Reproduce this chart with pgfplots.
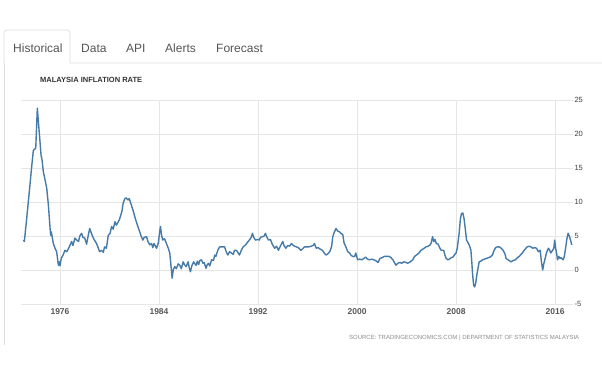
\documentclass[border=0pt]{standalone}
\usepackage{fontspec}
\setmainfont{Liberation Sans}
\usepackage{pgfplots}
\pgfplotsset{compat=1.18}
\definecolor{linec}{RGB}{70,122,168}
\definecolor{gridc}{RGB}{230,230,230}
\definecolor{tabc}{RGB}{85,85,85}
\definecolor{borderc}{RGB}{221,221,221}
\begin{document}
\begin{tikzpicture}[x=1pt,y=1pt]
\useasboundingbox (0,0) rectangle (602,-376);
\fill[white] (0,0) rectangle (602,-376);
% tabs
\draw[borderc, line width=0.8pt] (4,-63) -- (4,-33) arc[start angle=180,end angle=90,radius=3] -- (67,-30) arc[start angle=90,end angle=0,radius=3] -- (70,-63) -- (602,-63);
\draw[borderc, line width=0.8pt] (4,-63) -- (4,-345);
\node[anchor=base west, inner sep=0, text=tabc, font=\fontsize{12}{14}\selectfont] at (13,-52) {Historical};
\node[anchor=base west, inner sep=0, text=tabc, font=\fontsize{12}{14}\selectfont] at (81,-52) {Data};
\node[anchor=base west, inner sep=0, text=tabc, font=\fontsize{12}{14}\selectfont] at (126,-52) {API};
\node[anchor=base west, inner sep=0, text=tabc, font=\fontsize{12}{14}\selectfont] at (165,-52) {Alerts};
\node[anchor=base west, inner sep=0, text=tabc, font=\fontsize{12}{14}\selectfont] at (216,-52) {Forecast};
\node[anchor=west, inner sep=0, text=black!80, font=\bfseries\fontsize{7.5}{9}\selectfont] at (40,-80) {MALAYSIA INFLATION RATE};
\node[anchor=west, inner sep=0, text=black!45] at (349,-338) {\resizebox{230pt}{!}{\fontsize{6}{7}\selectfont SOURCE: TRADINGECONOMICS.COM \textbar{} DEPARTMENT OF STATISTICS MALAYSIA}};
\begin{axis}[
  at={(21pt,-304pt)}, anchor=south west,
  scale only axis, width=552pt, height=204pt,
  xmin=1972.85, xmax=2017.45, ymin=-5, ymax=25,
  xtick={1976,1984,1992,2000,2008,2016},
  ytick={-5,0,5,10,15,20,25},
  grid=major,
  major grid style={color=gridc, line width=0.6pt},
  axis line style={draw=none},
  tick style={draw=none},
  yticklabel pos=right,
  /pgf/number format/assume math mode=true,
  /pgf/number format/1000 sep={},
  yticklabel style={anchor=west, xshift=-2pt, font=\fontsize{7.5}{9}\selectfont, text=black!75},
  xticklabel style={font=\bfseries\fontsize{8.5}{10}\selectfont, text=black!65, yshift=-1pt},
  clip=false,
]
\addplot[linec, line width=1.4pt, line join=round] coordinates {
(1973.04,4.4)(1973.12,4.2)(1973.25,6.5)(1973.44,10.0)(1973.6,13.0)(1973.7,15.0)(1973.85,17.6)(1974.04,17.9)
(1974.17,23.8)(1974.3,20.8)(1974.47,16.9)(1974.55,16.2)(1974.65,14.5)(1974.8,13.2)(1974.93,12.0)(1975.06,9.6)
(1975.2,6.1)(1975.25,5.1)(1975.3,5.6)(1975.46,3.9)(1975.6,3.2)(1975.73,2.7)(1975.87,0.7)(1975.95,1.2)
(1976.0,0.6)(1976.1,1.7)(1976.25,2.2)(1976.4,2.9)(1976.55,2.7)(1976.7,3.2)(1976.94,4.2)(1977.05,3.6)
(1977.2,4.7)(1977.35,4.4)(1977.5,4.2)(1977.6,5.0)(1977.75,5.4)(1977.85,4.8)(1978.0,4.7)(1978.15,3.8)
(1978.25,4.8)(1978.4,6.1)(1978.5,5.6)(1978.6,5.1)(1978.75,4.5)(1978.95,3.9)(1979.1,3.2)(1979.2,2.7)
(1979.36,2.9)(1979.5,2.6)(1979.6,3.4)(1979.75,3.2)(1979.9,5.1)(1980.05,5.4)(1980.17,6.4)(1980.3,6.0)
(1980.44,7.1)(1980.55,6.6)(1980.65,6.9)(1980.8,7.4)(1980.9,8.0)(1981.0,8.6)(1981.1,9.8)(1981.24,10.5)
(1981.35,10.6)(1981.5,10.3)(1981.6,10.5)(1981.65,10.2)(1981.9,8.8)(1982.05,7.8)(1982.2,6.9)(1982.35,6.1)
(1982.45,5.6)(1982.55,5.0)(1982.7,4.4)(1982.8,4.8)(1983.0,4.9)(1983.1,4.2)(1983.26,3.7)(1983.4,3.9)
(1983.5,3.3)(1983.6,3.9)(1983.8,3.2)(1983.95,4.0)(1984.05,5.6)(1984.12,6.4)(1984.2,5.2)(1984.3,4.4)
(1984.45,4.6)(1984.6,3.9)(1984.75,3.2)(1984.87,2.5)(1984.95,1.0)(1985.06,-1.2)(1985.15,0.0)(1985.27,0.5)
(1985.4,0.2)(1985.55,0.9)(1985.68,0.7)(1985.8,0.2)(1985.95,1.2)(1986.05,0.8)(1986.2,0.5)(1986.35,1.2)
(1986.45,0.3)(1986.54,-0.25)(1986.65,0.6)(1986.8,1.2)(1986.9,0.9)(1987.0,0.7)(1987.1,1.3)(1987.2,0.8)
(1987.3,1.4)(1987.43,1.5)(1987.55,1.0)(1987.65,1.1)(1987.8,0.25)(1987.9,0.8)(1988.0,1.0)(1988.1,0.6)
(1988.25,1.5)(1988.4,1.4)(1988.5,2.2)(1988.6,2.0)(1988.75,2.9)(1988.9,3.4)(1989.1,3.4)(1989.3,3.4)
(1989.45,2.6)(1989.57,2.2)(1989.7,2.7)(1989.85,2.5)(1990.0,2.3)(1990.1,2.9)(1990.25,2.9)(1990.4,2.5)
(1990.5,2.2)(1990.65,2.9)(1990.8,3.4)(1991.0,3.7)(1991.2,4.2)(1991.3,4.4)(1991.45,4.8)(1991.55,5.4)
(1991.65,4.8)(1991.8,4.4)(1992.0,4.5)(1992.1,4.4)(1992.2,4.8)(1992.35,4.9)(1992.5,5.0)(1992.6,5.4)
(1992.7,4.9)(1992.85,4.4)(1993.0,4.5)(1993.15,3.8)(1993.34,3.2)(1993.5,3.5)(1993.65,2.9)(1993.8,3.5)
(1994.0,4.2)(1994.1,3.6)(1994.25,3.2)(1994.4,3.6)(1994.55,3.5)(1994.7,3.9)(1994.85,3.6)(1995.1,3.4)
(1995.25,3.3)(1995.45,2.9)(1995.6,3.1)(1995.76,3.4)(1995.9,3.4)(1996.1,3.4)(1996.3,3.5)(1996.45,3.6)
(1996.56,3.9)(1996.7,3.2)(1996.85,3.3)(1997.0,3.1)(1997.2,2.9)(1997.35,2.5)(1997.5,2.2)(1997.65,2.4)
(1997.8,2.7)(1997.95,3.5)(1998.04,4.9)(1998.15,5.5)(1998.3,6.1)(1998.45,5.7)(1998.6,5.6)(1998.7,5.4)
(1998.85,5.2)(1998.95,4.0)(1999.1,3.4)(1999.25,2.7)(1999.4,2.5)(1999.5,2.2)(1999.65,2.0)(1999.8,1.96)
(1999.9,2.5)(2000.05,1.5)(2000.2,1.6)(2000.4,1.5)(2000.55,1.7)(2000.7,1.9)(2000.85,1.6)(2001.0,1.5)
(2001.2,1.6)(2001.35,1.5)(2001.5,1.4)(2001.7,1.1)(2001.85,1.7)(2002.0,1.8)(2002.2,2.0)(2002.4,2.0)
(2002.6,2.0)(2002.75,1.8)(2002.9,1.5)(2003.05,1.0)(2003.15,0.7)(2003.3,1.0)(2003.45,1.1)(2003.6,1.0)
(2003.8,1.2)(2003.95,1.1)(2004.1,1.0)(2004.3,1.2)(2004.5,1.5)(2004.65,2.0)(2004.8,2.2)(2005.0,2.5)
(2005.17,2.9)(2005.35,3.1)(2005.57,3.4)(2005.75,3.5)(2005.9,3.7)(2006.0,4.0)(2006.1,4.9)(2006.2,4.2)
(2006.3,4.5)(2006.4,3.9)(2006.55,3.8)(2006.7,3.2)(2006.8,2.9)(2007.0,2.9)(2007.1,2.2)(2007.2,1.7)
(2007.35,1.5)(2007.45,1.6)(2007.6,1.8)(2007.75,1.9)(2007.9,2.3)(2008.0,2.5)(2008.1,3.2)(2008.25,5.4)
(2008.35,7.5)(2008.44,8.3)(2008.55,8.4)(2008.65,7.5)(2008.75,6.0)(2008.85,4.4)(2009.0,3.9)(2009.1,3.5)
(2009.2,2.9)(2009.28,1.0)(2009.33,-0.5)(2009.42,-2.2)(2009.5,-2.5)(2009.58,-2.0)(2009.7,-0.5)(2009.8,0.5)
(2009.87,1.2)(2010.0,1.3)(2010.15,1.5)(2010.3,1.6)(2010.45,1.7)(2010.6,1.8)(2010.75,1.9)(2010.94,2.2)
(2011.05,2.8)(2011.2,3.3)(2011.35,3.4)(2011.5,3.4)(2011.65,3.2)(2011.8,2.9)(2011.95,2.4)(2012.04,1.7)
(2012.2,1.5)(2012.45,1.2)(2012.6,1.4)(2012.8,1.5)(2012.95,1.8)(2013.1,2.0)(2013.35,2.5)(2013.55,3.0)
(2013.75,3.4)(2013.9,3.5)(2014.05,3.4)(2014.2,3.2)(2014.35,3.3)(2014.5,3.2)(2014.65,2.7)(2014.8,2.9)
(2014.9,1.2)(2015.0,0.0)(2015.1,1.0)(2015.2,1.7)(2015.3,2.5)(2015.46,3.2)(2015.55,3.0)(2015.65,2.5)
(2015.8,2.9)(2015.9,3.2)(2015.97,4.4)(2016.05,3.2)(2016.12,2.5)(2016.2,1.5)(2016.3,2.0)(2016.4,1.7)
(2016.5,1.8)(2016.65,1.5)(2016.75,2.0)(2016.85,3.2)(2016.95,4.5)(2017.05,5.4)(2017.15,5.0)(2017.25,4.4)
(2017.35,3.7)
};
\end{axis}
\end{tikzpicture}
\end{document}
